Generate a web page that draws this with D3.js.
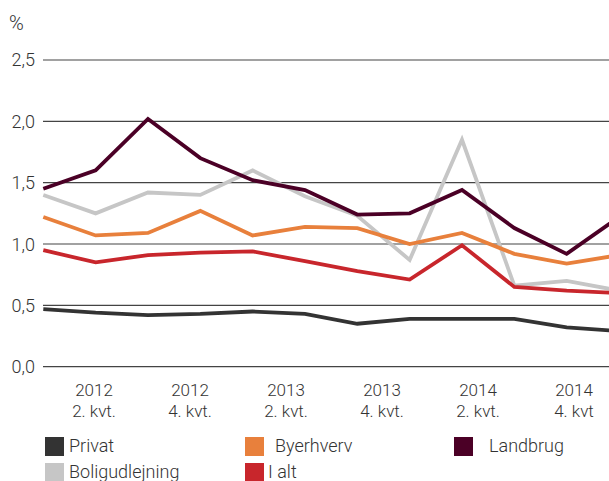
<!DOCTYPE html>
<html>
<head>
<meta charset="utf-8">
<script src="https://cdn.jsdelivr.net/npm/d3@7"></script>
<style>
  html, body { margin: 0; padding: 0; background: #fff; }
  svg { display: block; }
  text { font-family: Roboto, "Liberation Sans", sans-serif; font-weight: 300; fill: #333; }
</style>
</head>
<body>
<svg id="chart" width="609" height="481"></svg>
<script>
// Quarters 2012 1. kvt. – 2014 4. kvt.
const quarters = ["2012K1","2012K2","2012K3","2012K4","2013K1","2013K2","2013K3","2013K4","2014K1","2014K2","2014K3","2014K4"];

// Series (%)
const privat         = [0.47, 0.44, 0.42, 0.43, 0.45, 0.43, 0.35, 0.39, 0.39, 0.39, 0.32, 0.29];
const boligudlejning = [1.40, 1.25, 1.42, 1.40, 1.60, 1.39, 1.23, 0.87, 1.85, 0.66, 0.70, 0.62];
const byerhverv      = [1.22, 1.07, 1.09, 1.27, 1.07, 1.14, 1.13, 1.00, 1.09, 0.92, 0.84, 0.91];
const landbrug       = [1.45, 1.60, 2.02, 1.70, 1.52, 1.44, 1.24, 1.25, 1.44, 1.13, 0.92, 1.22];
const iAlt           = [0.95, 0.85, 0.91, 0.93, 0.94, 0.86, 0.78, 0.71, 0.99, 0.65, 0.62, 0.60];

// Axis labels
const yTicks = [0, 0.5, 1.0, 1.5, 2.0, 2.5];
const yTickLabels = ["0,0", "0,5", "1,0", "1,5", "2,0", "2,5"];
const xLabelYears = ["2012", "2012", "2013", "2013", "2014", "2014"];
const xLabelQuarters = ["2. kvt.", "4. kvt.", "2. kvt.", "4. kvt.", "2. kvt.", "4. kvt"];

const seriesNames  = ["Privat", "Boligudlejning", "Byerhverv", "I alt", "Landbrug"];
const seriesColors = ["#333333", "#c6c6c6", "#e8803c", "#c8262c", "#4b0026"];
const seriesValues = [privat, boligudlejning, byerhverv, iAlt, landbrug];

const svg = d3.select("#chart");

const x = d3.scalePoint().domain(quarters).range([43.3, 619]);
const y = d3.scaleLinear().domain([0, 2.5]).range([366.7, 60]);

// Gridlines and y labels
const grid = svg.append("g");
grid.selectAll("line").data(yTicks).join("line")
  .attr("x1", 43).attr("x2", 609)
  .attr("y1", d => y(d)).attr("y2", d => y(d))
  .attr("stroke", "#444").attr("stroke-width", 1.2);

grid.selectAll("text").data(yTicks).join("text")
  .attr("x", 35).attr("y", d => y(d))
  .attr("dy", "0.36em")
  .attr("text-anchor", "end")
  .style("font-size", "18px")
  .text((d, i) => yTickLabels[i]);

svg.append("text")
  .attr("x", 9).attr("y", 30)
  .style("font-size", "20px")
  .text("%");

// Lines (grey series drawn first so the others sit on top)
const line = d3.line().x((d, i) => x(quarters[i])).y(d => y(d));
const drawOrder = [1, 0, 2, 3, 4];
svg.append("g").selectAll("path").data(drawOrder).join("path")
  .attr("d", k => line(seriesValues[k]))
  .attr("fill", "none")
  .attr("stroke", k => seriesColors[k])
  .attr("stroke-width", 3.8)
  .attr("stroke-linejoin", "miter");

// X axis labels (two lines each)
const xl = d3.scalePoint().domain(d3.range(xLabelYears.length)).range([94, 574]);
const xg = svg.append("g");
const labels = xg.selectAll("text").data(d3.range(xLabelYears.length)).join("text")
  .attr("text-anchor", "middle")
  .style("font-size", "17px");
labels.append("tspan").attr("x", d => xl(d)).attr("y", 395.5).text(d => xLabelYears[d]);
labels.append("tspan").attr("x", d => xl(d)).attr("y", 416.5).text(d => xLabelQuarters[d]);

// Legend
const legendItems = [
  { name: "Privat",         color: "#333333", sx: 45,  tx: 69,  row: 0 },
  { name: "Byerhverv",      color: "#e8803c", sx: 245, tx: 275, row: 0 },
  { name: "Landbrug",       color: "#4b0026", sx: 454, tx: 489, row: 0 },
  { name: "Boligudlejning", color: "#c6c6c6", sx: 45,  tx: 69,  row: 1 },
  { name: "I alt",          color: "#c8262c", sx: 245, tx: 268, row: 1 }
];
const lg = svg.append("g").selectAll("g").data(legendItems).join("g")
  .attr("transform", d => `translate(0, ${437 + d.row * 26})`);
lg.append("rect")
  .attr("x", d => d.sx).attr("y", 0)
  .attr("width", 19).attr("height", 19)
  .attr("fill", d => d.color);
lg.append("text")
  .attr("x", d => d.tx).attr("y", 15)
  .style("font-size", "18px")
  .text(d => d.name);
</script>
</body>
</html>
